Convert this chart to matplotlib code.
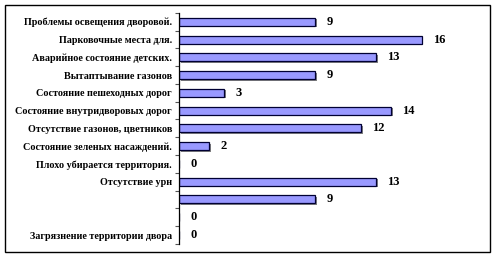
import matplotlib
matplotlib.use("Agg")
from matplotlib import pyplot as plt
from matplotlib import patheffects as pe
from matplotlib.patches import Rectangle
import numpy as np

# категории и значения (сверху вниз)
labels = [
    "Проблемы освещения дворовой.",
    "Парковочные места для.",
    "Аварийное состояние детских.",
    "Вытаптывание газонов",
    "Состояние пешеходных дорог",
    "Состояние внутридворовых дорог",
    "Отсутствие газонов, цветников",
    "Состояние зеленых насаждений.",
    "Плохо убирается территория.",
    "Отсутствие урн",
    "",
    "",
    "Загрязнение территории двора",
]
values = [9, 16, 13, 9, 3, 14, 12, 2, 0, 13, 9, 0, 0]

plt.rcParams['font.family'] = ['Liberation Serif', 'DejaVu Serif']

fig = plt.figure(figsize=(4.97, 2.57), dpi=100)
ax = fig.add_axes([0.360, 0.051, 0.58, 0.899])

y = np.arange(len(values))
bars = ax.barh(y, values, height=0.45, color='#9999ff', edgecolor='#000033', linewidth=0.9,
               path_effects=[pe.SimplePatchShadow(offset=(1.2, -1.2), shadow_rgbFace='#808080', alpha=1), pe.Normal()])

for yi, v in zip(y, values):
    ax.annotate(str(v), (v, yi), xytext=(8, 0), textcoords='offset points',
                va='center', ha='left', fontsize=9, fontweight='bold')

ax.set_xlim(0, 19)
ax.set_ylim(len(values) - 0.5, -0.5)
ax.set_yticks(y)
ax.set_yticklabels(labels, fontsize=7.3, fontweight='bold')
ax.tick_params(axis='y', length=0, pad=5)
ax.set_yticks(np.arange(len(values) + 1) - 0.5, minor=True)
ax.tick_params(axis='y', which='minor', length=3, width=0.8, color='#555555')
ax.set_xticks([])
for s in ['top', 'right', 'bottom']:
    ax.spines[s].set_visible(False)
ax.spines['left'].set_linewidth(0.9)

# рамка вокруг диаграммы
fig.patches.append(Rectangle((5 / 497, 5 / 257), 485 / 497, 247 / 257, transform=fig.transFigure,
                             fill=False, edgecolor='black', linewidth=1))

fig.savefig('out.png', dpi=100)
